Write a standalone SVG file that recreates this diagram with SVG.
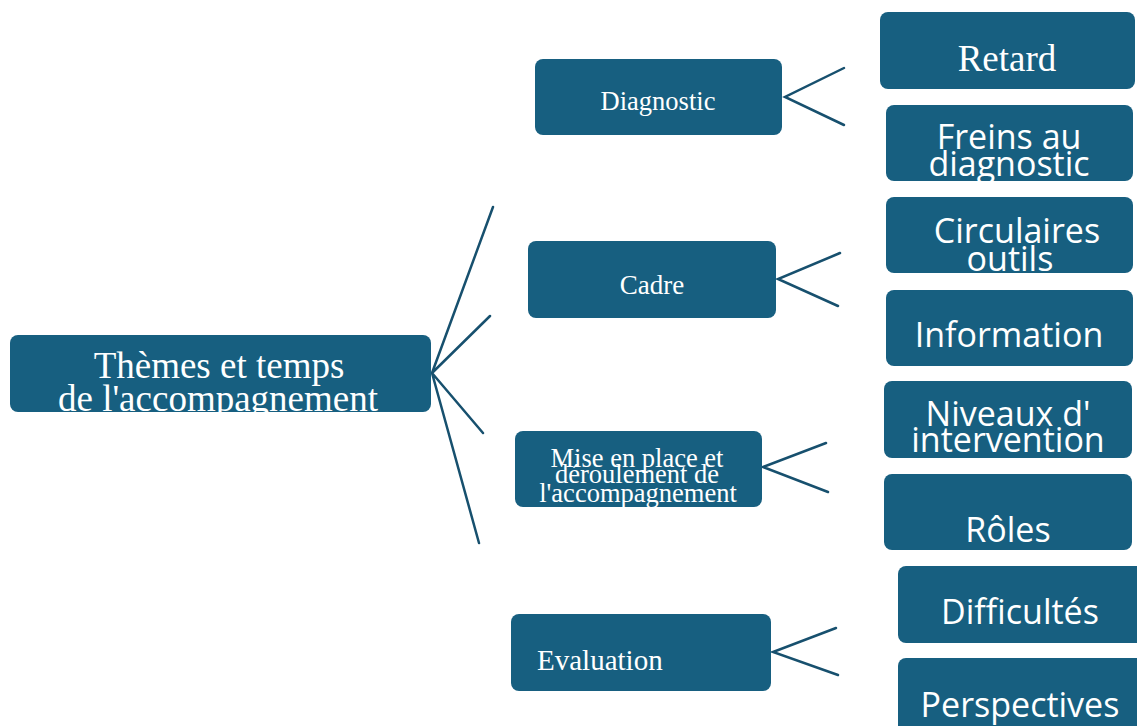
<svg xmlns="http://www.w3.org/2000/svg" width="1137" height="726" viewBox="0 0 1137 726">
<style>
.box{fill:#175f80;}
.serif{font-family:"Liberation Serif","Times New Roman",serif;fill:#fff;}
.sans{font-family:"Open Sans","Noto Sans",sans-serif;fill:#fff;}
.conn{stroke:#17506e;stroke-width:2.5;fill:none;stroke-linecap:round;}
</style>
<defs>
<clipPath id="c0"><rect x="10" y="335" width="421" height="77" rx="8"/></clipPath>
<clipPath id="c1"><rect x="535" y="59" width="247" height="76" rx="8"/></clipPath>
<clipPath id="c2"><rect x="528" y="241" width="248" height="77" rx="8"/></clipPath>
<clipPath id="c3"><rect x="515" y="431" width="247" height="76" rx="8"/></clipPath>
<clipPath id="c4"><rect x="511" y="614" width="260" height="77" rx="8"/></clipPath>
<clipPath id="c5"><rect x="880" y="12" width="255" height="77" rx="8"/></clipPath>
<clipPath id="c6"><rect x="886" y="105" width="247" height="76" rx="8"/></clipPath>
<clipPath id="c7"><rect x="886" y="197" width="247" height="76" rx="8"/></clipPath>
<clipPath id="c8"><rect x="886" y="290" width="247" height="76" rx="8"/></clipPath>
<clipPath id="c9"><rect x="884" y="381" width="248" height="77" rx="8"/></clipPath>
<clipPath id="c10"><rect x="884" y="474" width="248" height="76" rx="8"/></clipPath>
<clipPath id="c11"><rect x="898" y="566" width="250" height="77" rx="8"/></clipPath>
<clipPath id="c12"><rect x="898" y="658" width="250" height="80" rx="8"/></clipPath>
</defs>
<rect width="1137" height="726" fill="#fff"/>
<g id="connectors">
<path class="conn" d="M432 373 L493 207 M432 373 L490 316 M432 373 L483 433 M432 373 L479 543"/>
<path class="conn" d="M844 68 L785 97 L844 125"/>
<path class="conn" d="M840 253 L778 279 L838 306"/>
<path class="conn" d="M826 443 L763 467 L828 492"/>
<path class="conn" d="M836 628 L773 652 L838 675"/>
</g>
<g id="root">
<rect class="box" x="10" y="335" width="421" height="77" rx="8"/>
<g clip-path="url(#c0)" class="serif" font-size="37" text-anchor="middle">
<text x="219" y="378">Thèmes et temps</text>
<text x="218" y="411">de l'accompagnement</text>
</g>
</g>
<g id="diagnostic">
<rect class="box" x="535" y="59" width="247" height="76" rx="8"/>
<text class="serif" x="658" y="110" font-size="26.5" text-anchor="middle" clip-path="url(#c1)">Diagnostic</text>
</g>
<g id="cadre">
<rect class="box" x="528" y="241" width="248" height="77" rx="8"/>
<text class="serif" x="652" y="294" font-size="27" text-anchor="middle" clip-path="url(#c2)">Cadre</text>
</g>
<g id="mise">
<rect class="box" x="515" y="431" width="247" height="76" rx="8"/>
<g clip-path="url(#c3)" class="serif" font-size="26.5" text-anchor="middle">
<text x="637" y="467">Mise en place et</text>
<text x="637" y="483">déroulement de</text>
<text x="638" y="502">l'accompagnement</text>
</g>
</g>
<g id="evaluation">
<rect class="box" x="511" y="614" width="260" height="77" rx="8"/>
<text class="serif" x="537" y="670" font-size="29" clip-path="url(#c4)">Evaluation</text>
</g>
<g id="retard">
<rect class="box" x="880" y="12" width="255" height="77" rx="8"/>
<text class="serif" x="1007" y="71" font-size="37" text-anchor="middle" clip-path="url(#c5)">Retard</text>
</g>
<g id="freins">
<rect class="box" x="886" y="105" width="247" height="76" rx="8"/>
<g clip-path="url(#c6)" class="sans" font-size="34" text-anchor="middle">
<text x="1009" y="149">Freins au</text>
<text x="1009" y="176">diagnostic</text>
</g>
</g>
<g id="circulaires">
<rect class="box" x="886" y="197" width="247" height="76" rx="8"/>
<g clip-path="url(#c7)" class="sans" font-size="34" text-anchor="middle">
<text x="1017" y="243">Circulaires</text>
<text x="1010" y="271">outils</text>
</g>
</g>
<g id="information">
<rect class="box" x="886" y="290" width="247" height="76" rx="8"/>
<text class="sans" x="1009" y="347" font-size="34" text-anchor="middle" clip-path="url(#c8)">Information</text>
</g>
<g id="niveaux">
<rect class="box" x="884" y="381" width="248" height="77" rx="8"/>
<g clip-path="url(#c9)" class="sans" font-size="34" text-anchor="middle">
<text x="1008" y="426">Niveaux d'</text>
<text x="1008" y="452">intervention</text>
</g>
</g>
<g id="roles">
<rect class="box" x="884" y="474" width="248" height="76" rx="8"/>
<text class="sans" x="1008" y="542" font-size="34" text-anchor="middle" clip-path="url(#c10)">Rôles</text>
</g>
<g id="difficultes">
<rect class="box" x="898" y="566" width="250" height="77" rx="8"/>
<text class="sans" x="1020" y="624" font-size="34" text-anchor="middle" clip-path="url(#c11)">Difficultés</text>
</g>
<g id="perspectives">
<rect class="box" x="898" y="658" width="250" height="80" rx="8"/>
<text class="sans" x="1020" y="717" font-size="34" text-anchor="middle" clip-path="url(#c12)">Perspectives</text>
</g>
</svg>
